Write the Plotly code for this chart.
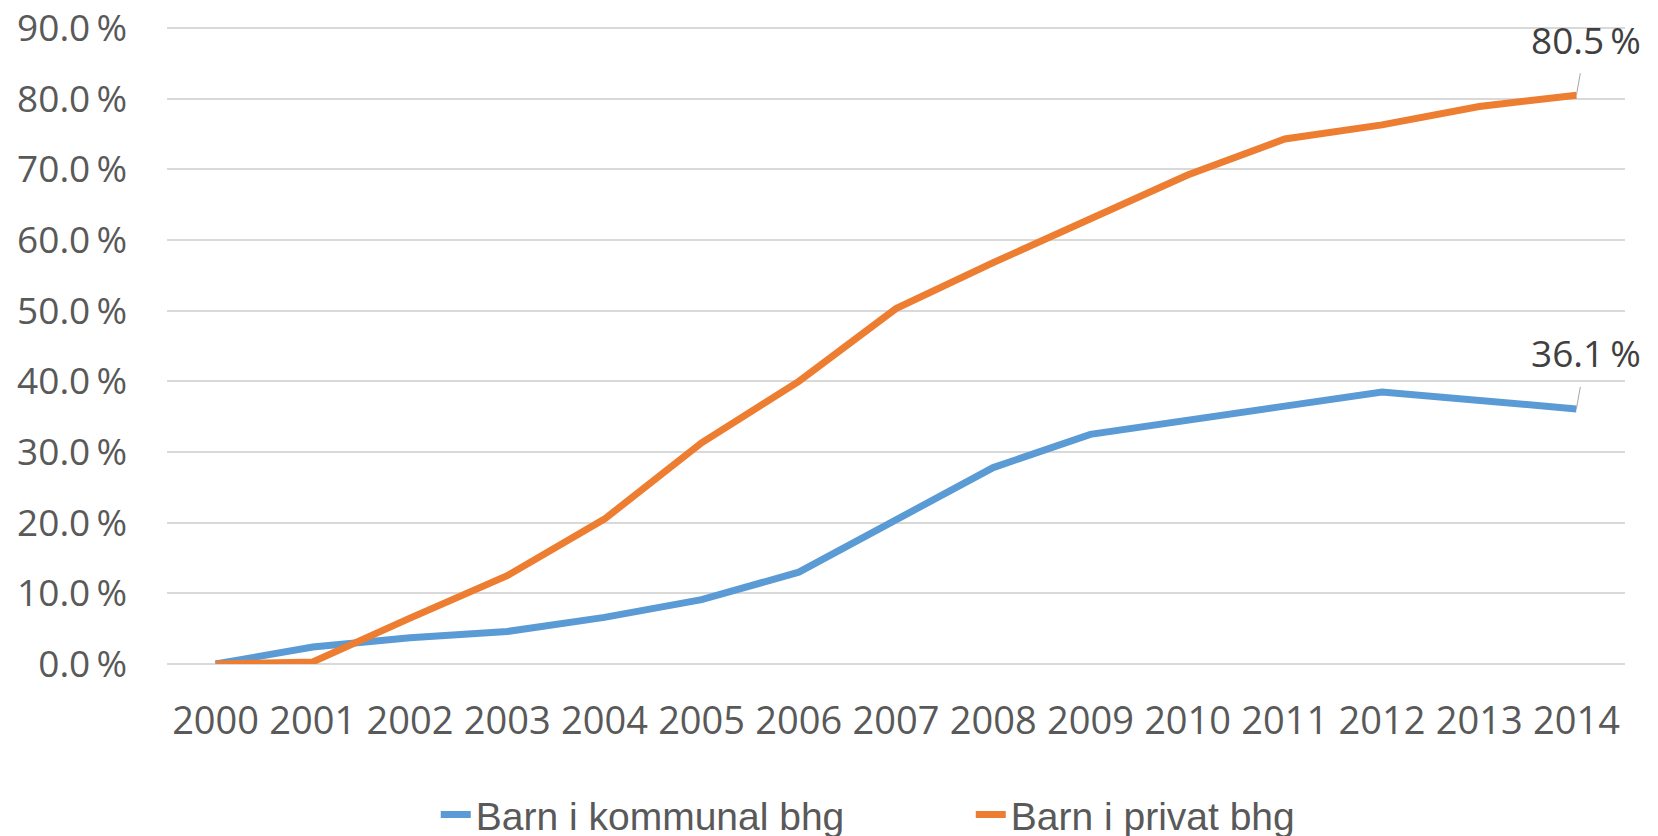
import plotly.graph_objects as go

years = list(range(2000, 2015))
kommunal = [0.0, 2.4, 3.7, 4.6, 6.6, 9.1, 13.0, 20.5, 27.8, 32.5, 34.6, 36.5, 38.5, 37.4, 36.1]
privat = [0.0, 0.3, 6.5, 12.5, 20.5, 31.3, 40.0, 50.3, 56.8, 63.0, 69.2, 74.3, 76.3, 78.9, 80.5]
series_names = ["Barn i kommunal bhg", "Barn i privat bhg"]
colors = ["#5B9BD5", "#ED7D31"]
y_ticks = [0, 10, 20, 30, 40, 50, 60, 70, 80, 90]

TEXT = "#595959"
SP = "\u2009"

fig = go.Figure()
for name, vals, c in zip(series_names, [kommunal, privat], colors):
    fig.add_trace(go.Scatter(
        x=years, y=vals, name=name, mode="lines",
        line=dict(color=c, width=7),
        hoverinfo="skip",
    ))

for vals in [privat, kommunal]:
    fig.add_annotation(
        x=years[-1], y=vals[-1], xref="x", yref="y",
        text=f"{vals[-1]:.1f}{SP}%",
        showarrow=True, arrowhead=0, arrowwidth=1, arrowcolor="#A6A6A6",
        ax=10, ay=-56, borderpad=8, standoff=0,
        font=dict(family="Open Sans, sans-serif", size=37, color="#404040"),
    )

fig.update_layout(
    width=1658, height=836,
    margin=dict(l=159, r=41, t=19, b=180, autoexpand=False),
    paper_bgcolor="white", plot_bgcolor="white",
    showlegend=True,
    legend=dict(
        orientation="h", xref="container", yref="container",
        x=0.258, xanchor="left", y=0.035, yanchor="middle",
        font=dict(family="Liberation Sans, Arial, sans-serif", size=39, color=TEXT),
        entrywidth=490, entrywidthmode="pixels", tracegroupgap=0,
    ),
    xaxis=dict(
        range=[1999.5, 2014.5], tickmode="array", tickvals=years,
        ticktext=[str(y) for y in years],
        showgrid=False, showline=False, zeroline=False,
        ticks="", tickfont=dict(family="Open Sans, sans-serif", size=38, color=TEXT),
        ticklabelstandoff=31,
    ),
    yaxis=dict(
        range=[0, 90.15], tickmode="array", tickvals=y_ticks,
        ticktext=[f"{v:.1f}{SP}%" for v in y_ticks],
        showgrid=True, gridcolor="#D9D9D9", gridwidth=1.5,
        zeroline=True, zerolinecolor="#D9D9D9", zerolinewidth=1.5,
        showline=False, ticks="",
        tickfont=dict(family="Open Sans, sans-serif", size=37, color=TEXT),
        ticklabelstandoff=39, ticklabeloverflow="allow",
    ),
)

fig.write_html("out.html")
